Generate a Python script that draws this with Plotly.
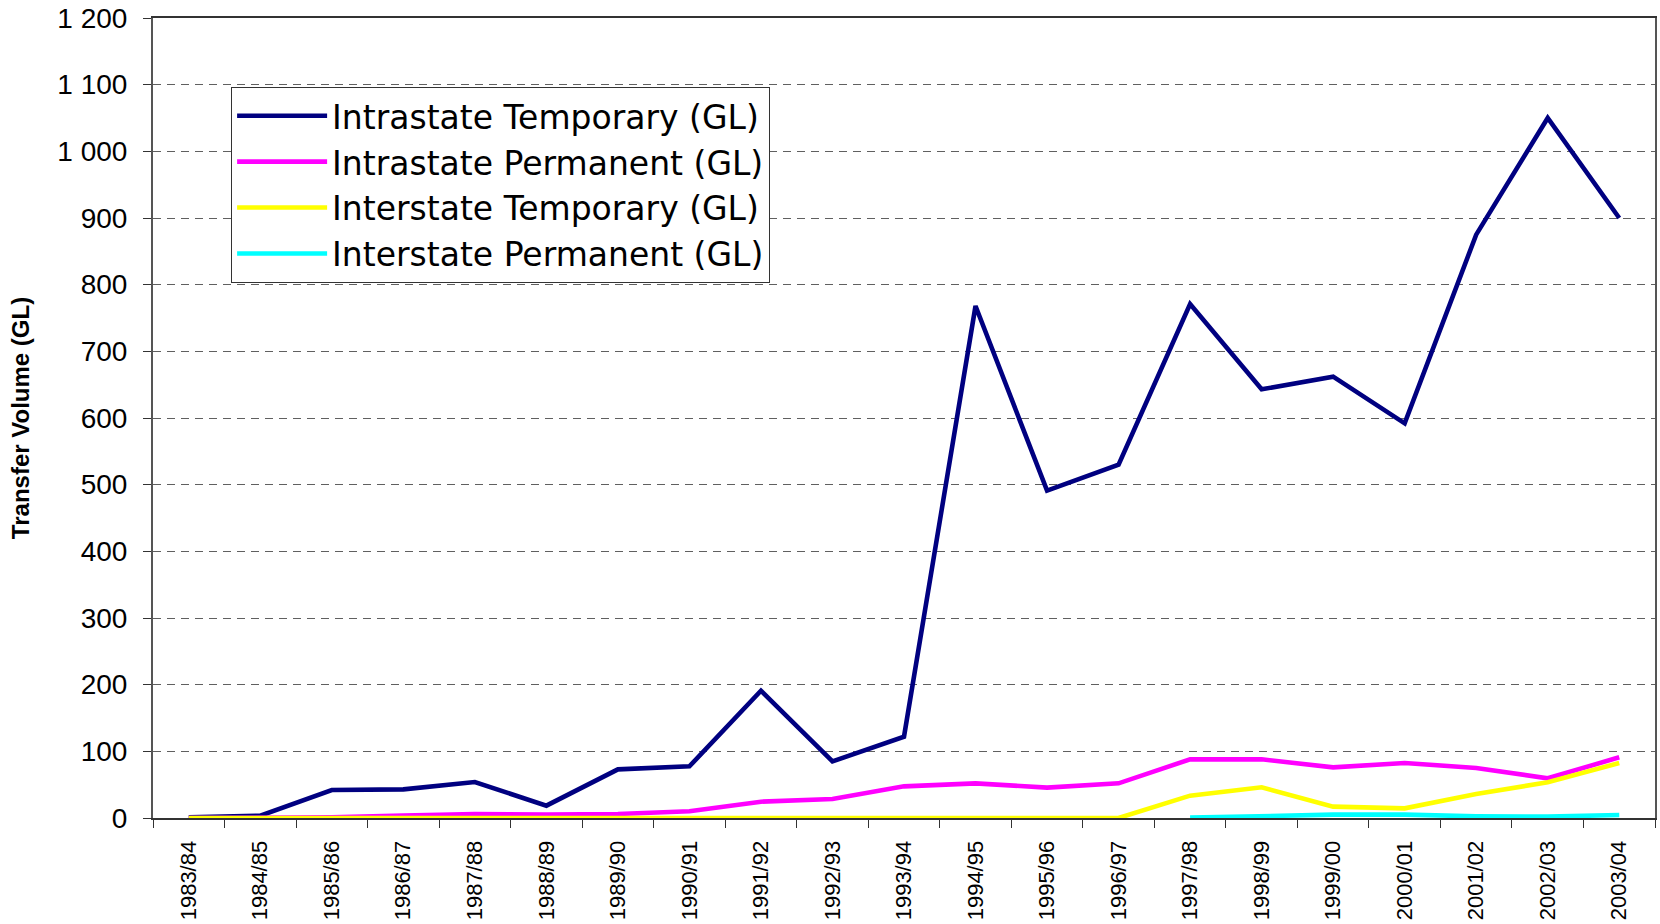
import plotly.graph_objects as go

years = ["1983/84", "1984/85", "1985/86", "1986/87", "1987/88", "1988/89", "1989/90",
         "1990/91", "1991/92", "1992/93", "1993/94", "1994/95", "1995/96", "1996/97",
         "1997/98", "1998/99", "1999/00", "2000/01", "2001/02", "2002/03", "2003/04"]

intra_temp = [1, 3.5, 42, 43, 54, 18.5, 73, 77.5, 191, 85, 122, 768, 491, 530,
              771, 643, 662, 592, 875, 1050, 900]
intra_perm = [0, 0, 1, 3.5, 6, 5, 6, 10, 24.5, 28.5, 47.5, 52, 45.5, 52,
              88, 88, 76, 82.5, 75, 59.5, 91]
inter_temp = [0, 0, 0, 0, 0, 0, 0, 0, 0, 0, 0, 0, 0, 0,
              33.5, 46, 17, 14.5, 36, 53.5, 82.5]
inter_perm = [None] * 14 + [0.5, 3, 5, 5, 2.5, 2, 4.5]

series_names = ["Intrastate Temporary (GL)", "Intrastate Permanent (GL)",
                "Interstate Temporary (GL)", "Interstate Permanent (GL)"]
series_colors = ["#000080", "#FF00FF", "#FFFF00", "#00FFFF"]
series_values = [intra_temp, intra_perm, inter_temp, inter_perm]

fig = go.Figure()
for name, color, vals in zip(series_names, series_colors, series_values):
    fig.add_trace(go.Scatter(x=years, y=vals, name=name, mode="lines",
                             line=dict(color=color, width=4.6)))

FONT = "Liberation Sans, Arial, sans-serif"

fig.update_layout(
    width=1660, height=924,
    paper_bgcolor="white", plot_bgcolor="white",
    margin=dict(l=153, r=5, t=18, b=106),
    separators=". ",
    font=dict(family=FONT, color="black"),
    showlegend=True,
    legend=dict(x=0.052, y=0.914, xanchor="left", yanchor="top",
                bordercolor="#333333", borderwidth=1, bgcolor="white",
                font=dict(size=33, family="DejaVu Sans, Liberation Sans, sans-serif"),
                itemwidth=90, tracegroupgap=0),
)

fig.update_xaxes(
    type="category", range=[-0.5, len(years) - 0.5], automargin=False,
    showgrid=False,
    showline=True, linecolor="#333333", linewidth=2, mirror=True,
    ticks="outside", tickson="boundaries", ticklen=8, tickcolor="#333333",
    tickangle=-90, tickfont=dict(size=22, family=FONT), ticklabelstandoff=12,
)

fig.update_yaxes(
    range=[0, 1200], dtick=100, tickformat=",d", automargin=False,
    ticklabeloverflow="allow",
    showgrid=True, gridcolor="#606060", gridwidth=1, griddash="8px,6px",
    showline=True, linecolor="#555555", linewidth=2, mirror=True,
    ticks="outside", ticklen=8, tickcolor="#333333",
    tickfont=dict(size=28, family=FONT), ticklabelstandoff=10,
    title=dict(text="<b>Transfer Volume (GL)</b>", font=dict(size=24, family=FONT), standoff=21),
    zeroline=False,
)

fig.write_html("out.html",
               config={"displayModeBar": False},
               post_script="document.body.style.margin='0px';document.body.style.overflow='hidden';")
